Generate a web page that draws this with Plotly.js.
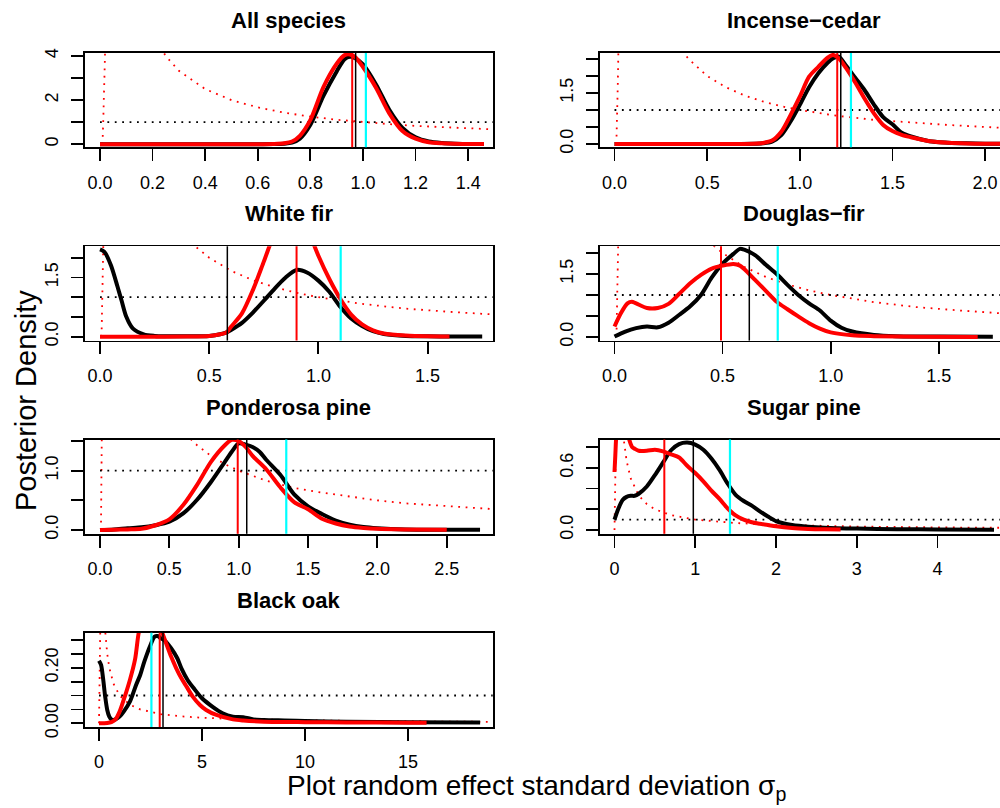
<!DOCTYPE html>
<html>
<head>
<meta charset="utf-8">
<script src="https://cdn.plot.ly/plotly-3.0.1.min.js"></script>
<style>html,body{margin:0;padding:0;background:#fff;}#chart{width:1000px;height:808px;}</style>
</head>
<body>
<div id="chart"></div>
<script>
// ---------- DATA ----------
const titles = ["All species", "Incense\u2212cedar", "White fir", "Douglas\u2212fir", "Ponderosa pine", "Sugar pine", "Black oak"];

// All species
const allX = [0, 0.2, 0.4, 0.6, 0.66, 0.7, 0.73, 0.76, 0.8, 0.85, 0.9, 0.93, 0.95, 0.97, 1.0, 1.05, 1.1, 1.15, 1.2, 1.25, 1.3, 1.35, 1.4, 1.46];
const allBlack = [0, 0, 0, 0, 0.005, 0.02, 0.07, 0.25, 0.88, 2.2, 3.3, 3.85, 3.96, 3.9, 3.62, 2.7, 1.56, 0.74, 0.31, 0.12, 0.05, 0.02, 0.01, 0.005];
const allRed = [0, 0, 0, 0, 0.01, 0.04, 0.12, 0.38, 1.1, 2.6, 3.65, 4.04, 4.07, 3.95, 3.5, 2.55, 1.4, 0.6, 0.25, 0.09, 0.04, 0.02, 0.01, 0.005];
const allPriorX = [0.008, 0.01, 0.012, 0.015, 0.019, 0.025, 0.1, 0.2, 0.25, 0.3, 0.4, 0.5, 0.6, 0.7, 0.8, 0.9, 1.0, 1.1, 1.2, 1.3, 1.4, 1.5];
const allPriorY = [0, 0.2, 0.9, 2.0, 4.0, 40, 10, 5, 4, 3.33, 2.5, 2, 1.67, 1.43, 1.25, 1.11, 1.0, 0.91, 0.83, 0.77, 0.71, 0.67];

// Incense-cedar
const cedarX = [0, 0.3, 0.6, 0.75, 0.8, 0.85, 0.9, 0.95, 1.0, 1.05, 1.1, 1.15, 1.18, 1.21, 1.25, 1.3, 1.35, 1.4, 1.45, 1.5, 1.55, 1.6, 1.7, 1.8, 1.9, 2.0, 2.1];
const cedarBlack = [0, 0, 0, 0.005, 0.02, 0.07, 0.26, 0.66, 1.15, 1.67, 2.08, 2.39, 2.52, 2.57, 2.3, 1.94, 1.58, 1.16, 0.79, 0.58, 0.33, 0.22, 0.08, 0.04, 0.02, 0.01, 0.005];
const cedarRed = [0, 0, 0, 0.01, 0.03, 0.1, 0.36, 0.85, 1.39, 1.98, 2.27, 2.54, 2.62, 2.52, 2.23, 1.8, 1.33, 0.9, 0.56, 0.38, 0.27, 0.2, 0.08, 0.035, 0.015, 0.008, 0.004];
const cedarPriorX = [0.01, 0.012, 0.015, 0.018, 0.021, 0.03, 0.1, 0.3, 0.37, 0.4, 0.5, 0.6, 0.7, 0.8, 0.9, 1.0, 1.2, 1.4, 1.6, 1.8, 2.0, 2.2];
const cedarPriorY = [0, 0.3, 1.0, 1.8, 2.8, 30, 10, 3.33, 2.7, 2.5, 2.0, 1.67, 1.43, 1.25, 1.11, 1.0, 0.83, 0.71, 0.63, 0.56, 0.5, 0.45];

// White fir
const firBlackX = [0, 0.02, 0.05, 0.08, 0.1, 0.12, 0.15, 0.2, 0.25, 0.3, 0.4, 0.5, 0.55, 0.58, 0.6, 0.65, 0.7, 0.75, 0.8, 0.85, 0.9, 0.95, 1.0, 1.05, 1.1, 1.15, 1.2, 1.25, 1.3, 1.4, 1.5, 1.6, 1.75];
const firBlack = [2.21, 2.15, 1.81, 1.27, 0.89, 0.51, 0.21, 0.06, 0.02, 0.01, 0.01, 0.02, 0.06, 0.11, 0.17, 0.35, 0.61, 0.91, 1.22, 1.5, 1.69, 1.62, 1.42, 1.14, 0.76, 0.46, 0.27, 0.14, 0.07, 0.02, 0.01, 0.005, 0.003];
const firRedX = [0, 0.2, 0.4, 0.5, 0.55, 0.58, 0.6, 0.65, 0.7, 0.75, 0.8, 0.85, 0.88, 0.92, 0.96, 1.0, 1.05, 1.1, 1.15, 1.2, 1.25, 1.3, 1.4, 1.5, 1.6];
const firRed = [0, 0, 0.005, 0.02, 0.06, 0.11, 0.25, 0.59, 1.18, 1.9, 2.63, 3.11, 3.2, 3.1, 2.6, 2.05, 1.46, 0.96, 0.56, 0.31, 0.16, 0.08, 0.03, 0.01, 0.005];
const firPriorX = [0.007, 0.009, 0.011, 0.013, 0.015, 0.02, 0.1, 0.3, 0.44, 0.5, 0.6, 0.7, 0.8, 0.9, 1.0, 1.2, 1.4, 1.6, 1.8, 1.9];
const firPriorY = [0, 0.5, 1.1, 1.7, 2.3, 30, 10, 3.33, 2.27, 2.0, 1.67, 1.43, 1.25, 1.11, 1.0, 0.83, 0.71, 0.63, 0.56, 0.53];

// Douglas-fir
const dfBlackX = [0, 0.05, 0.1, 0.15, 0.2, 0.25, 0.3, 0.35, 0.4, 0.45, 0.5, 0.55, 0.58, 0.6, 0.65, 0.7, 0.75, 0.8, 0.85, 0.9, 0.95, 1.0, 1.05, 1.1, 1.2, 1.3, 1.5, 1.75];
const dfBlack = [0.01, 0.13, 0.21, 0.25, 0.23, 0.34, 0.53, 0.73, 1.0, 1.42, 1.75, 1.98, 2.1, 2.08, 1.95, 1.72, 1.5, 1.24, 1.0, 0.8, 0.63, 0.39, 0.22, 0.13, 0.05, 0.02, 0.01, 0.005];
const dfRedX = [0, 0.03, 0.06, 0.08, 0.1, 0.15, 0.2, 0.25, 0.3, 0.35, 0.4, 0.45, 0.5, 0.55, 0.58, 0.6, 0.65, 0.7, 0.75, 0.8, 0.85, 0.9, 0.95, 1.0, 1.1, 1.2, 1.4, 1.68];
const dfRed = [0.25, 0.57, 0.8, 0.84, 0.8, 0.69, 0.69, 0.79, 1.03, 1.28, 1.48, 1.63, 1.7, 1.74, 1.7, 1.62, 1.36, 1.1, 0.84, 0.66, 0.49, 0.33, 0.2, 0.11, 0.04, 0.02, 0.005, 0.002];
const dfPriorX = [0.009, 0.011, 0.013, 0.015, 0.017, 0.022, 0.1, 0.3, 0.46, 0.5, 0.6, 0.7, 0.8, 0.9, 1.0, 1.2, 1.4, 1.6, 1.8];
const dfPriorY = [0, 0.5, 1.1, 1.6, 2.2, 30, 10, 3.33, 2.17, 2.0, 1.67, 1.43, 1.25, 1.11, 1.0, 0.83, 0.71, 0.63, 0.56];

// Ponderosa pine
const ppBlackX = [0, 0.1, 0.2, 0.3, 0.4, 0.5, 0.6, 0.7, 0.8, 0.9, 0.95, 1.0, 1.05, 1.1, 1.15, 1.2, 1.3, 1.4, 1.5, 1.6, 1.7, 1.8, 1.9, 2.0, 2.2, 2.5, 2.74];
const ppBlack = [0, 0.01, 0.03, 0.045, 0.08, 0.14, 0.28, 0.51, 0.81, 1.15, 1.32, 1.46, 1.44, 1.4, 1.32, 1.18, 0.93, 0.6, 0.4, 0.27, 0.16, 0.09, 0.05, 0.03, 0.01, 0.005, 0.003];
const ppRedX = [0, 0.1, 0.2, 0.3, 0.4, 0.5, 0.6, 0.7, 0.8, 0.9, 0.95, 1.0, 1.05, 1.1, 1.2, 1.3, 1.4, 1.5, 1.6, 1.7, 1.8, 1.9, 2.0, 2.2, 2.5];
const ppRed = [0, 0.005, 0.01, 0.02, 0.08, 0.18, 0.42, 0.76, 1.15, 1.43, 1.52, 1.5, 1.4, 1.25, 1.02, 0.72, 0.47, 0.35, 0.19, 0.11, 0.06, 0.035, 0.02, 0.01, 0.003];
const ppPriorX = [0.007, 0.009, 0.011, 0.013, 0.02, 0.1, 0.5, 0.65, 0.7, 0.8, 0.9, 1.0, 1.2, 1.4, 1.6, 1.8, 2.0, 2.2, 2.5, 2.85];
const ppPriorY = [0, 0.4, 0.9, 1.6, 30, 10, 2.0, 1.54, 1.43, 1.25, 1.11, 1.0, 0.83, 0.71, 0.63, 0.56, 0.5, 0.45, 0.4, 0.35];

// Sugar pine
const spBlackX = [0, 0.05, 0.1, 0.15, 0.2, 0.25, 0.3, 0.4, 0.5, 0.6, 0.7, 0.8, 0.9, 1.0, 1.1, 1.2, 1.3, 1.4, 1.5, 1.6, 1.7, 1.8, 1.9, 2.0, 2.1, 2.2, 2.4, 2.6, 3.0, 3.5, 4.0, 4.7];
const spBlack = [0.1, 0.21, 0.29, 0.32, 0.33, 0.33, 0.35, 0.42, 0.53, 0.65, 0.77, 0.83, 0.845, 0.825, 0.775, 0.69, 0.58, 0.45, 0.34, 0.28, 0.235, 0.18, 0.13, 0.085, 0.062, 0.048, 0.032, 0.022, 0.013, 0.008, 0.005, 0.003];
const spRedX = [0, 0.01, 0.02, 0.05, 0.1, 0.15, 0.18, 0.22, 0.25, 0.3, 0.4, 0.5, 0.6, 0.7, 0.8, 0.9, 1.0, 1.1, 1.2, 1.3, 1.4, 1.5, 1.6, 1.7, 1.8, 1.9, 2.0, 2.2, 2.4, 2.6, 2.8];
const spRed = [0.56, 0.72, 0.88, 1.1, 1.15, 1.0, 0.88, 0.8, 0.785, 0.765, 0.765, 0.775, 0.76, 0.73, 0.7, 0.62, 0.55, 0.47, 0.38, 0.3, 0.21, 0.14, 0.1, 0.075, 0.06, 0.048, 0.035, 0.018, 0.01, 0.006, 0.004];
const spPriorX = [0, 0.005, 0.01, 0.015, 0.02, 0.03, 0.06, 0.1, 0.114, 0.15, 0.2, 0.3, 0.4, 0.5, 0.7, 1.0, 1.5, 2.0, 3.0, 4.0, 4.8];
const spPriorY = [0, 0.2, 0.45, 0.7, 1.0, 3.0, 1.67, 1.0, 0.877, 0.667, 0.5, 0.333, 0.25, 0.2, 0.143, 0.1, 0.067, 0.05, 0.033, 0.025, 0.021];

// Black oak
const boBlackX = [0, 0.1, 0.2, 0.3, 0.4, 0.5, 0.6, 0.7, 0.8, 1.0, 1.2, 1.5, 1.8, 2.0, 2.2, 2.5, 2.7, 2.85, 3.0, 3.2, 3.5, 3.8, 4.0, 4.3, 4.6, 5.0, 5.5, 6.0, 6.5, 7.0, 7.5, 8.0, 9.0, 10, 12, 15, 18.5];
const boBlack = [0.225, 0.21, 0.16, 0.096, 0.048, 0.024, 0.014, 0.012, 0.014, 0.024, 0.042, 0.078, 0.138, 0.174, 0.222, 0.282, 0.312, 0.314, 0.306, 0.297, 0.27, 0.234, 0.198, 0.156, 0.126, 0.09, 0.06, 0.036, 0.024, 0.022, 0.014, 0.012, 0.01, 0.008, 0.006, 0.004, 0.003];
const boRedX = [0, 0.4, 0.6, 0.8, 1.0, 1.25, 1.5, 1.75, 1.93, 2.1, 2.4, 2.7, 2.95, 3.07, 3.25, 3.5, 3.75, 4.0, 4.25, 4.55, 4.9, 5.2, 5.7, 6.5, 7.0, 8.0, 10, 12, 15, 15.9];
const boRed = [0, 0.001, 0.004, 0.014, 0.042, 0.096, 0.156, 0.23, 0.326, 0.37, 0.4, 0.39, 0.35, 0.326, 0.29, 0.24, 0.198, 0.162, 0.132, 0.096, 0.066, 0.048, 0.03, 0.014, 0.01, 0.006, 0.004, 0.003, 0.002, 0.002];
const boPriorX = [0, 0.02, 0.04, 0.06, 0.1, 0.2, 0.307, 0.4, 0.5, 0.7, 1.0, 1.5, 2, 3, 4, 5, 7, 10, 13, 16, 19.2];
const boPriorY = [0, 0.08, 0.18, 0.33, 2.0, 0.5, 0.326, 0.25, 0.2, 0.143, 0.1, 0.067, 0.05, 0.033, 0.025, 0.02, 0.0143, 0.01, 0.0077, 0.00625, 0.0052];

// Uniform prior reference level and its drawn extent
const unifLevel = [1, 1, 1, 1, 1, 0.1, 0.1];
const unifEnd = [1.5, 2.2, 1.9, 1.8, 2.85, 4.8, 19.2];

// Vertical reference lines
const blackLine = [0.972, 1.221, 0.583, 0.6235, 1.058, 0.976, 3.107];
const redLine = [0.959, 1.202, 0.90, 0.4926, 0.993, 0.617, 2.947];
const cyanLine = [1.011, 1.276, 1.102, 0.755, 1.343, 1.43, 2.544];

// Ticks
const xTickVals = [
  [0, 0.2, 0.4, 0.6, 0.8, 1.0, 1.2, 1.4],
  [0, 0.5, 1.0, 1.5, 2.0],
  [0, 0.5, 1.0, 1.5],
  [0, 0.5, 1.0, 1.5],
  [0, 0.5, 1.0, 1.5, 2.0, 2.5],
  [0, 1, 2, 3, 4],
  [0, 5, 10, 15]
];
const xTickText = [
  ["0.0", "0.2", "0.4", "0.6", "0.8", "1.0", "1.2", "1.4"],
  ["0.0", "0.5", "1.0", "1.5", "2.0"],
  ["0.0", "0.5", "1.0", "1.5"],
  ["0.0", "0.5", "1.0", "1.5"],
  ["0.0", "0.5", "1.0", "1.5", "2.0", "2.5"],
  ["0", "1", "2", "3", "4"],
  ["0", "5", "10", "15"]
];
const yTickVals = [
  [0, 1, 2, 3, 4],
  [0, 0.5, 1.0, 1.5, 2.0, 2.5],
  [0, 0.5, 1.0, 1.5, 2.0],
  [0, 0.5, 1.0, 1.5, 2.0],
  [0, 0.5, 1.0, 1.5],
  [0, 0.2, 0.4, 0.6, 0.8],
  [0, 0.05, 0.10, 0.15, 0.20, 0.25, 0.30]
];
const yTickText = [
  ["0", " ", "2", " ", "4"],
  ["0.0", " ", " ", "1.5", " ", " "],
  ["0.0", " ", " ", "1.5", " "],
  ["0.0", " ", " ", "1.5", " "],
  ["0.0", " ", "1.0", " "],
  ["0.0", " ", " ", "0.6", " "],
  ["0.00", " ", " ", " ", "0.20", " ", " "]
];

// ---------- LAYOUT GEOMETRY ----------
const xRanges = [[-0.057, 1.4932], [-0.0783, 2.0804], [-0.0687, 1.7981], [-0.0671, 1.7831], [-0.1081, 2.8313], [-0.1796, 4.774], [-0.6796, 19.11]];
const yRanges = [[-0.141, 4.136], [-0.097, 2.676], [-0.099, 2.289], [-0.086, 2.16], [-0.064, 1.526], [-0.037, 0.874], [-0.0133, 0.326]];
const colDomains = [[0.085, 0.4927], [0.600, 1.0]];
const rowDomains = [[0.81770, 0.93441], [0.57847, 0.69517], [0.33936, 0.45606], [0.10025, 0.21696]];
const colCenters = [0.2889, 0.804];

const panels = [
  {bx: allX, by: allBlack, rx: allX, ry: allRed, px: allPriorX, py: allPriorY},
  {bx: cedarX, by: cedarBlack, rx: cedarX, ry: cedarRed, px: cedarPriorX, py: cedarPriorY},
  {bx: firBlackX, by: firBlack, rx: firRedX, ry: firRed, px: firPriorX, py: firPriorY},
  {bx: dfBlackX, by: dfBlack, rx: dfRedX, ry: dfRed, px: dfPriorX, py: dfPriorY},
  {bx: ppBlackX, by: ppBlack, rx: ppRedX, ry: ppRed, px: ppPriorX, py: ppPriorY},
  {bx: spBlackX, by: spBlack, rx: spRedX, ry: spRed, px: spPriorX, py: spPriorY},
  {bx: boBlackX, by: boBlack, rx: boRedX, ry: boRed, px: boPriorX, py: boPriorY}
];

const FONT = "Liberation Sans, Arial, Helvetica, sans-serif";
const traces = [];
const shapes = [];
const annotations = [];
const layout = {
  width: 1000, height: 808,
  margin: {l: 0, r: 0, t: 0, b: 0},
  paper_bgcolor: "#ffffff", plot_bgcolor: "#ffffff",
  showlegend: false,
  font: {family: FONT, color: "#000000", size: 18}
};

panels.forEach((p, i) => {
  const row = Math.floor(i / 2), col = i % 2;
  const sfx = i === 0 ? "" : String(i + 1);
  const xa = "x" + sfx, ya = "y" + sfx;
  // prior (red dotted)
  traces.push({x: p.px, y: p.py, xaxis: xa, yaxis: ya, mode: "lines", hoverinfo: "skip",
    line: {color: "#ff0000", width: 1.8, dash: "1.8px,5.6px"}});
  // uniform prior (black dotted)
  traces.push({x: [0, unifEnd[i]], y: [unifLevel[i], unifLevel[i]], xaxis: xa, yaxis: ya, mode: "lines", hoverinfo: "skip",
    line: {color: "#000000", width: 1.8, dash: "1.8px,5.6px"}});
  // black posterior
  traces.push({x: p.bx, y: p.by, xaxis: xa, yaxis: ya, mode: "lines", hoverinfo: "skip",
    line: {color: "#000000", width: 4, shape: "spline", smoothing: 0.8}});
  // red posterior
  traces.push({x: p.rx, y: p.ry, xaxis: xa, yaxis: ya, mode: "lines", hoverinfo: "skip",
    line: {color: "#ff0000", width: 4, shape: "spline", smoothing: 0.8}});

  layout["xaxis" + sfx] = {
    domain: colDomains[col], range: xRanges[i], anchor: ya,
    showgrid: false, zeroline: false, showline: true, mirror: true, linecolor: "#000", linewidth: 1.8,
    ticks: "outside", ticklen: 12, tickwidth: 1.8, tickcolor: "#000",
    tickvals: xTickVals[i], ticktext: xTickText[i], tickfont: {family: FONT, size: 18, color: "#000"},
    ticklabelstandoff: 6, fixedrange: true
  };
  layout["yaxis" + sfx] = {
    domain: rowDomains[row], range: yRanges[i], anchor: xa,
    showgrid: false, zeroline: false, showline: true, mirror: col === 0, linecolor: "#000", linewidth: 1.8,
    ticks: "outside", ticklen: 12, tickwidth: 1.8, tickcolor: "#000",
    tickvals: yTickVals[i], ticktext: yTickText[i], tickangle: -90, tickfont: {family: FONT, size: 18, color: "#000"},
    ticklabelstandoff: 6, fixedrange: true
  };

  const vl = [[blackLine[i], "#000000", 1.5], [redLine[i], "#ff0000", 2], [cyanLine[i], "#00ffff", 2.2]];
  vl.forEach(v => shapes.push({type: "line", xref: xa, yref: ya + " domain", x0: v[0], x1: v[0], y0: 0, y1: 1,
    line: {color: v[1], width: v[2]}}));

  annotations.push({text: "<b>" + titles[i] + "</b>", xref: "paper", yref: "paper", x: colCenters[col], y: rowDomains[row][1],
    xanchor: "center", yanchor: "bottom", yshift: 18, showarrow: false, font: {family: FONT, size: 22, color: "#000"}});
});

annotations.push({text: "Posterior Density", xref: "paper", yref: "paper", x: 0.026, y: 0.5037, textangle: -90,
  xanchor: "center", yanchor: "middle", showarrow: false, font: {family: FONT, size: 29, color: "#000"}});
annotations.push({text: "Plot random effect standard deviation \u03c3<sub>p</sub>", xref: "paper", yref: "paper", x: 0.536, y: 0.0,
  xanchor: "center", yanchor: "bottom", yshift: 1, showarrow: false, font: {family: FONT, size: 28, color: "#000"}});

layout.shapes = shapes;
layout.annotations = annotations;

Plotly.newPlot("chart", traces, layout, {displayModeBar: false, staticPlot: true});
</script>
</body>
</html>
